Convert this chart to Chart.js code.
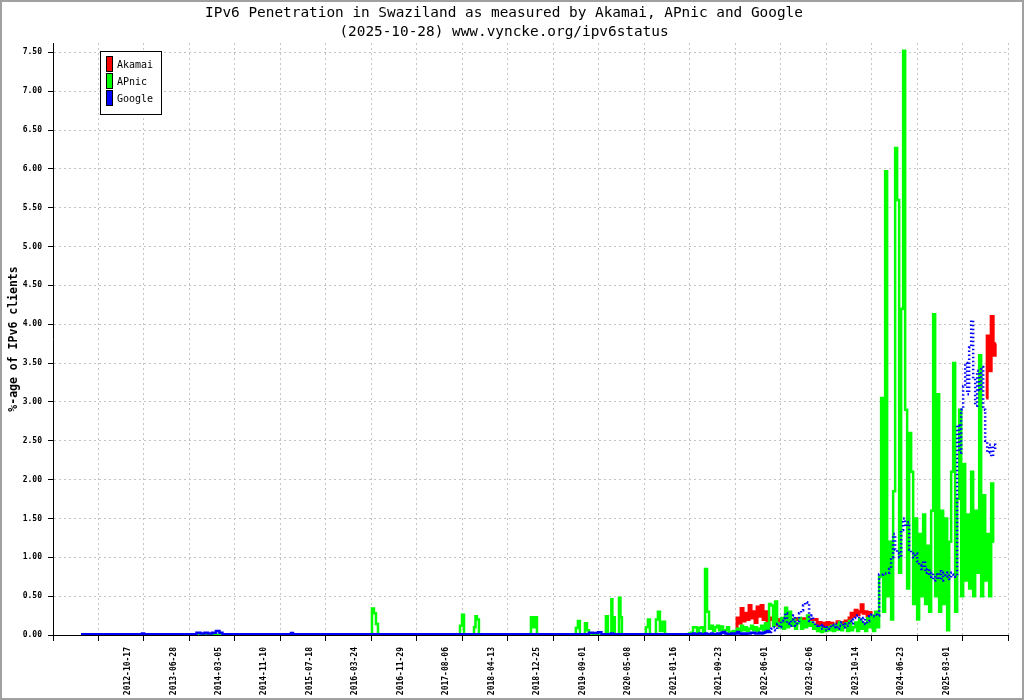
<!DOCTYPE html>
<html>
<head>
<meta charset="utf-8">
<title>IPv6 Penetration in Swaziland</title>
<script src="https://cdn.jsdelivr.net/npm/chart.js@4.4.1/dist/chart.umd.min.js"></script>
<style>
  html, body { margin: 0; padding: 0; background: #fff; }
  canvas { display: block; }
</style>
</head>
<body>
<canvas id="mycanvas" width="1024" height="700"></canvas>
<script>
// x values are day numbers counted from the left end of the time axis
var titleLines = ['IPv6 Penetration in Swaziland as measured by Akamai, APnic and Google',
                  '(2025-10-28) www.vyncke.org/ipv6status'];
var yTitle = '%-age of IPv6 clients';

var seriesNames  = ['Akamai', 'APnic', 'Google'];
var seriesColors = ['#ff0000', '#00ff00', '#0000ff'];

var tickStep = 250; // days between x ticks
var xTickLabels = ['', '', '2012-10-17', '2013-06-28', '2014-03-05', '2014-11-10', '2015-07-18',
  '2016-03-24', '2016-11-29', '2017-08-06', '2018-04-13', '2018-12-25', '2019-09-01',
  '2020-05-08', '2021-01-16', '2021-09-23', '2022-06-01', '2023-02-06', '2023-10-14',
  '2024-06-23', '2025-03-01', ''];
var yTicks = [0, 0.5, 1, 1.5, 2, 2.5, 3, 3.5, 4, 4.5, 5, 5.5, 6, 6.5, 7, 7.5];

// sparse readings before 2021 [day, %]
var apnicEarly = [[154,0],[1748,0],[1759,0.34],[1770,0.28],[1781,0.14],[1792,0],
  [2232,0],[2243,0.12],[2254,0.26],[2265,0],[2309,0],[2320,0.10],[2325,0.24],[2336,0.20],[2347,0],
  [2622,0],[2633,0.23],[2644,0.10],[2655,0.23],[2666,0],[2869,0],[2880,0.09],[2891,0.18],[2902,0],
  [2919,0],[2930,0.15],[2941,0.06],[2952,0],[3034,0],[3045,0.24],[3056,0],[3067,0],[3072,0.46],
  [3078,0.05],[3083,0.23],[3094,0],[3106,0],[3117,0.48],[3122,0.23],[3133,0],[3254,0],[3265,0.10],
  [3276,0.20],[3287,0],[3309,0],[3320,0.20],[3331,0.30],[3342,0.05],[3359,0.17],[3370,0],[3491,0]];
var googleEarly = [[154,0.01],[484,0.01],[495,0.02],[506,0.01],[770,0.01],[781,0.01],[797,0.03],
  [825,0.02],[841,0.03],[863,0.02],[885,0.03],[907,0.05],[923,0.03],[940,0.01],[1292,0.01],
  [1303,0.01],[1314,0.025],[1325,0.01],[2930,0.01],[2941,0.01],[2952,0.03],[2985,0.025],
  [3007,0.035],[3023,0.01],[3062,0.01],[3073,0.02],[3084,0.01],[3491,0.01]];

// dense readings from 2021 on, one every sampleStep days
var sampleStart = 3502;
var sampleStep = 11;

var apnicRecent = [
  0.02,0.03,0.10,0.10,0.04,0.09,0.10,0.04,0.85,0.30,0.08,0.12,0.05,0.10,0.12,0.06,0.11,0.03,0.06,0.10,
  0.04,0.02,0.05,0.04,0.08,0.05,0.12,0.06,0.10,0.05,0.08,0.12,0.06,0.10,0.05,0.08,0.12,0.06,0.15,0.08,
  0.40,0.38,0.12,0.43,0.15,0.10,0.22,0.08,0.35,0.10,0.30,0.12,0.20,0.08,0.15,0.22,0.08,0.18,0.10,0.25,
  0.12,0.16,0.08,0.12,0.05,0.10,0.04,0.08,0.05,0.10,0.06,0.12,0.05,0.13,0.07,0.16,0.06,0.12,0.15,0.05,
  0.18,0.06,0.10,0.16,0.05,0.20,0.08,0.15,0.05,0.22,0.10,0.25,0.05,0.30,0.10,0.75,3.05,0.30,5.97,0.50,
  1.20,0.20,1.85,6.27,5.60,0.80,4.20,7.52,2.90,0.60,2.60,2.10,0.40,1.50,0.20,1.30,0.50,1.55,0.40,1.15,
  0.30,1.60,4.13,0.50,3.10,0.30,1.60,0.40,1.50,0.06,1.20,2.10,3.50,0.30,1.75,2.90,0.50,2.20,0.70,1.55,
  0.60,2.10,0.50,1.60,0.80,3.60,0.50,1.80,0.70,1.30,0.50,1.95,1.20];

var googleRecent = [
  0.01,0.01,0.02,0.01,0.01,0.02,0.01,0.01,0.02,0.01,0.01,0.02,0.01,0.01,0.02,0.01,0.03,0.04,0.02,0.01,
  0.01,0.02,0.01,0.02,0.04,0.02,0.01,0.02,0.01,0.02,0.02,0.03,0.03,0.02,0.02,0.03,0.02,0.03,0.04,0.05,
  0.04,0.08,0.10,0.06,0.14,0.10,0.18,0.22,0.28,0.15,0.12,0.20,0.25,0.12,0.18,0.28,0.32,0.38,0.42,0.40,
  0.18,0.25,0.15,0.12,0.10,0.13,0.08,0.12,0.06,0.10,0.08,0.13,0.10,0.14,0.08,0.12,0.16,0.10,0.14,0.12,
  0.18,0.15,0.20,0.22,0.25,0.20,0.17,0.22,0.14,0.18,0.24,0.26,0.24,0.26,0.25,0.78,0.78,0.79,0.79,0.80,
  0.85,1.00,1.30,1.10,1.05,1.00,1.35,1.50,1.40,1.45,1.10,1.05,1.00,1.05,0.95,0.90,0.85,0.95,0.80,0.85,
  0.75,0.80,0.70,0.78,0.72,0.82,0.70,0.80,0.75,0.80,0.72,0.80,0.78,0.75,2.70,2.35,2.90,3.20,3.50,3.10,
  3.70,4.05,3.30,2.95,3.40,3.15,3.45,2.90,2.50,2.35,2.45,2.30,2.45,2.38];

var akamaiStart1 = 3755;
var akamaiRun1 = [
  0.08,0.22,0.15,0.34,0.18,0.28,0.20,0.38,0.22,0.30,0.16,0.36,0.24,0.38,0.20,0.30,0.12,0.22,0.20,0.21,
  0.20,0.13,0.20,0.12,0.20,0.20,0.21,0.20,0.20,0.20,0.21,0.20,0.20,0.20,0.21,0.20,0.20,0.20,0.20,0.20,
  0.20,0.10,0.16,0.08,0.15,0.09,0.16,0.10,0.15,0.07,0.12,0.17,0.09,0.16,0.12,0.18,0.10,0.22,0.28,0.24,
  0.32,0.26,0.30,0.39,0.28,0.30,0.24,0.29,0.20];
var akamaiStart2 = 5130;
var akamaiRun2 = [3.05, 3.85, 3.40, 4.10, 3.60, 3.75];

function pairsToPoints(pairs) {
  return pairs.map(function (p) { return { x: p[0], y: p[1] }; });
}
function runToPoints(start, values) {
  return values.map(function (v, i) { return { x: start + i * sampleStep, y: v }; });
}

var akamaiData = runToPoints(akamaiStart1, akamaiRun1)
  .concat([{ x: akamaiStart1 + akamaiRun1.length * sampleStep, y: null }])
  .concat(runToPoints(akamaiStart2, akamaiRun2));
var apnicData = pairsToPoints(apnicEarly).concat(runToPoints(sampleStart, apnicRecent));
var googleData = pairsToPoints(googleEarly).concat(runToPoints(sampleStart, googleRecent));

// first dataset is painted last, so Google sits on top
var datasets = [
  { label: seriesNames[2], data: googleData, borderColor: seriesColors[2], borderWidth: 2.5,
    stepped: 'middle',
    segment: {
      borderDash: function (ctx) {
        return (ctx.p0.parsed.y > 0.06 || ctx.p1.parsed.y > 0.06) ? [1.5, 2.5] : undefined;
      }
    } },
  { label: seriesNames[1], data: apnicData, borderColor: seriesColors[1], borderWidth: 2.5, stepped: 'middle' },
  { label: seriesNames[0], data: akamaiData, borderColor: seriesColors[0], borderWidth: 3, stepped: 'middle' }
];

var frameAndLegend = {
  id: 'frameAndLegend',
  beforeDraw: function (chart) {
    var c = chart.ctx;
    c.save();
    c.fillStyle = '#fff';
    c.fillRect(0, 0, chart.width, chart.height);
    c.restore();
  },
  afterDraw: function (chart) {
    var c = chart.ctx;
    var bx = chart.chartArea.left + 47.5, by = 51.5;
    c.save();
    c.fillStyle = '#fff';
    c.fillRect(bx, by, 61, 63);
    c.strokeStyle = '#000';
    c.lineWidth = 1;
    c.strokeRect(bx, by, 61, 63);
    c.font = '10px "DejaVu Sans Mono"';
    c.textBaseline = 'middle';
    for (var i = 0; i < seriesNames.length; i++) {
      var y = by + 5 + i * 17;
      c.fillStyle = seriesColors[i];
      c.fillRect(bx + 6, y, 6, 15);
      c.strokeRect(bx + 6, y, 6, 15);
      c.fillStyle = '#000';
      c.fillText(seriesNames[i], bx + 16.5, y + 9);
    }
    c.strokeStyle = '#a0a0a0';
    c.lineWidth = 2;
    c.strokeRect(1, 1, chart.width - 2, chart.height - 2);
    c.restore();
  }
};

var tickFont = { family: 'DejaVu Sans Mono', size: 8, weight: 'bold' };

var ctx = document.getElementById('mycanvas');
var LineGraph = new Chart(ctx, {
  type: 'line',
  data: { datasets: datasets },
  plugins: [frameAndLegend],
  options: {
    responsive: false,
    devicePixelRatio: 1,
    animation: false,
    layout: { padding: { left: 0, right: 16, top: 0, bottom: 0 } },
    elements: {
      point: { radius: 0, hoverRadius: 0 },
      line: { tension: 0, fill: false, borderCapStyle: 'butt', borderJoinStyle: 'miter' }
    },
    plugins: {
      legend: { display: false },
      tooltip: { enabled: false },
      title: {
        display: true,
        text: titleLines,
        color: '#000',
        font: { family: 'DejaVu Sans Mono', size: 14.4, weight: 'normal', lineHeight: '19px' },
        padding: { top: 4, bottom: 1 }
      }
    },
    scales: {
      x: {
        type: 'linear',
        bounds: 'data',
        min: 0,
        max: (xTickLabels.length - 1) * tickStep,
        afterBuildTicks: function (axis) {
          axis.ticks = xTickLabels.map(function (l, i) { return { value: i * tickStep }; });
        },
        afterFit: function (s) { s.height = 65; },
        grid: { color: '#c4c4c4', tickColor: '#000', tickLength: 6 },
        border: { color: '#000', width: 1, dash: [2, 3] },
        ticks: {
          autoSkip: false,
          minRotation: 90,
          maxRotation: 90,
          padding: 6,
          labelOffset: -16,
          color: '#000',
          font: tickFont,
          callback: function (v, i) { return xTickLabels[i]; }
        }
      },
      y: {
        type: 'linear',
        bounds: 'data',
        min: 0,
        max: 7.62,
        afterBuildTicks: function (axis) {
          axis.ticks = yTicks.map(function (v) { return { value: v }; });
        },
        afterFit: function (s) { s.width = 53; },
        grid: { color: '#c4c4c4', tickColor: '#000', tickLength: 5 },
        border: { color: '#000', width: 1, dash: [2, 3] },
        ticks: {
          padding: 6,
          color: '#000',
          font: tickFont,
          callback: function (v) { return Number(v).toFixed(2); }
        },
        title: {
          display: true,
          text: yTitle,
          color: '#000',
          font: { family: 'DejaVu Sans Mono', size: 11.5, weight: 'bold' },
          padding: { top: 7, bottom: 0 }
        }
      }
    }
  }
});
</script>
</body>
</html>
